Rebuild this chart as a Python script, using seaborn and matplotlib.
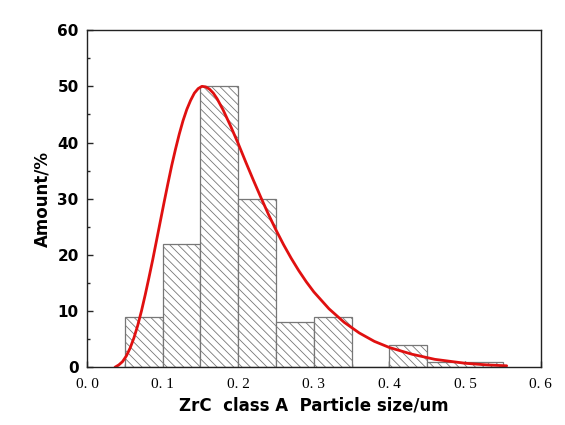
import matplotlib
matplotlib.use("Agg")
import matplotlib.pyplot as plt
import seaborn as sns
import numpy as np
import pandas as pd

bin_edges = [0.05, 0.10, 0.15, 0.20, 0.25, 0.30, 0.35, 0.40, 0.45, 0.55]
amounts = [9, 22, 50, 30, 8, 9, 0, 4, 1]
curve_x = [0.037, 0.042, 0.047, 0.052, 0.057, 0.062, 0.067, 0.072, 0.077, 0.082, 0.087, 0.092,
           0.097, 0.102, 0.107, 0.112, 0.117, 0.122, 0.127, 0.132, 0.137, 0.142, 0.147, 0.152,
           0.157, 0.162, 0.167, 0.172, 0.18, 0.19, 0.20, 0.21, 0.22, 0.23, 0.24, 0.25, 0.26,
           0.27, 0.28, 0.29, 0.30, 0.32, 0.34, 0.36, 0.38, 0.40, 0.43, 0.46, 0.50, 0.53, 0.555]
curve_y = [0.0, 0.4, 1.0, 2.0, 3.4, 5.2, 7.4, 10.0, 12.9, 16.0, 19.2, 22.6,
           26.0, 29.4, 32.7, 35.9, 38.8, 41.5, 43.9, 45.9, 47.5, 48.8, 49.6, 50.0,
           49.9, 49.5, 48.8, 47.8, 45.8, 42.9, 39.8, 36.5, 33.3, 30.2, 27.2, 24.4, 21.8,
           19.4, 17.2, 15.2, 13.4, 10.4, 8.0, 6.1, 4.6, 3.5, 2.3, 1.4, 0.7, 0.4, 0.25]

sns.set_style("ticks")
plt.rcParams['hatch.color'] = '#777777'
plt.rcParams['hatch.linewidth'] = 0.6
fig = plt.figure(figsize=(5.65, 4.25), dpi=100)
ax = fig.add_axes([0.154, 0.136, 0.803, 0.793])

centers = [(a + b) / 2 for a, b in zip(bin_edges[:-1], bin_edges[1:])]
df = pd.DataFrame({"size": centers, "amount": amounts})
sns.histplot(data=df, x="size", weights="amount", bins=bin_edges, ax=ax,
             stat="count", color="white", edgecolor="#777777", linewidth=0.9,
             hatch="\\\\\\\\", alpha=1)

sns.lineplot(x=curve_x, y=curve_y, ax=ax, color="#e01010", linewidth=2)

ax.set_xlim(0, 0.6)
ax.set_ylim(0, 60)
ax.set_xticks(np.arange(0, 0.61, 0.1))
ax.set_xticks(np.arange(0.05, 0.6, 0.1), minor=True)
ax.set_yticks(range(0, 61, 10))
ax.set_yticks(range(5, 60, 10), minor=True)
ax.set_xticklabels(["0. 0", "0. 1", "0. 2", "0. 3", "0. 4", "0. 5", "0. 6"],
                   family="Liberation Serif", fontsize=11, color="black")
ax.set_yticklabels([str(v) for v in range(0, 61, 10)], fontweight="bold", fontsize=11,
                   color="black")
ax.tick_params(direction="in", which="both", length=4, width=1)
ax.tick_params(axis="x", pad=8)
ax.tick_params(axis="y", pad=6)
ax.tick_params(which="minor", length=2.5)
for s in ax.spines.values():
    s.set_linewidth(1)
    s.set_color("#222222")
ax.set_xlabel("ZrC  class A  Particle size/um", fontweight="bold", fontsize=12, color="black")
ax.set_ylabel("Amount/%", fontweight="bold", fontsize=12, color="black")
fig.savefig("out.png", dpi=100)
